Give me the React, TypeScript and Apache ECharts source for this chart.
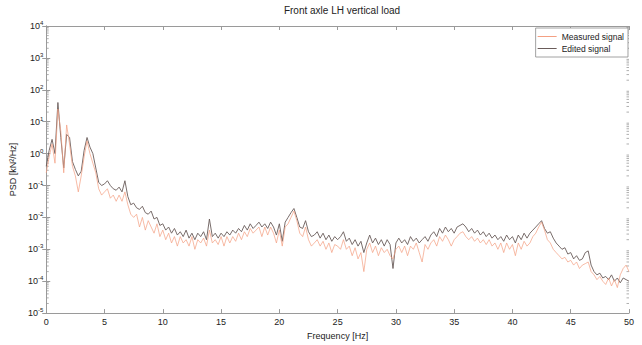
import React, { useEffect, useRef } from "react";
import * as echarts from "echarts";

// Frequency sampling of the PSD estimate (Hz)
const FREQ_START = 0;
const FREQ_STEP = 0.25;

// Measured signal PSD [kN^2/Hz], 0..50 Hz every 0.25 Hz
const measured: number[] = [
  0.25, 0.79, 2.0, 0.5, 25, 5.0, 0.25, 7.9, 2.0, 0.4, 0.2, 0.063, 0.2, 0.79, 2.5, 1.0, 0.5, 0.25, 0.079, 0.05,
  0.063, 0.079, 0.04, 0.05, 0.032, 0.05, 0.032, 0.063, 0.025, 0.0126, 0.01, 0.0126, 0.005, 0.01, 0.004, 0.0079, 0.005, 0.0032, 0.0063, 0.0025,
  0.004, 0.002, 0.0032, 0.00158, 0.0025, 0.00126, 0.0025, 0.00158, 0.002, 0.00126, 0.0025, 0.001, 0.002, 0.00158, 0.00224, 0.00126, 0.004, 0.00158, 0.002, 0.00141,
  0.0025, 0.00126, 0.0025, 0.00158, 0.0025, 0.00178, 0.0032, 0.002, 0.00355, 0.0025, 0.0045, 0.0032, 0.004, 0.005, 0.0025, 0.005, 0.0028, 0.005, 0.0032, 0.00158,
  0.004, 0.00126, 0.005, 0.0063, 0.01, 0.0158, 0.0079, 0.0032, 0.0025, 0.005, 0.002, 0.00126, 0.00158, 0.002, 0.00126, 0.00178, 0.001, 0.00158, 0.00079, 0.00141,
  0.00126, 0.001, 0.002, 0.001, 0.00126, 0.00063, 0.00112, 0.0005, 0.00079, 0.0002, 0.001, 0.00158, 0.00079, 0.00126, 0.00063, 0.00112, 0.00079, 0.001, 0.00063, 0.0005,
  0.001, 0.00126, 0.00079, 0.00126, 0.00063, 0.00126, 0.001, 0.00158, 0.00079, 0.0004, 0.00141, 0.001, 0.00158, 0.002, 0.00126, 0.0025, 0.00178, 0.0028, 0.002, 0.00126,
  0.002, 0.0025, 0.0032, 0.00355, 0.0025, 0.002, 0.0025, 0.00178, 0.00224, 0.00158, 0.002, 0.00141, 0.002, 0.00126, 0.00158, 0.001, 0.00158, 0.00079, 0.00158, 0.001,
  0.00141, 0.00063, 0.00158, 0.001, 0.00178, 0.00126, 0.00158, 0.0025, 0.0032, 0.005, 0.0071, 0.004, 0.002, 0.00158, 0.001, 0.00079, 0.00063, 0.0005, 0.00056, 0.0004,
  0.00045, 0.00032, 0.0004, 0.00025, 0.00032, 0.000355, 0.0004, 0.0002, 0.000158, 0.000112, 0.000141, 0.0001, 0.000079, 0.000126, 0.000071, 0.000112, 0.000063, 0.000158, 0.00025, 0.00032,
  0.0002,
];

// Edited signal PSD [kN^2/Hz], 0..50 Hz every 0.25 Hz
const edited: number[] = [
  0.4, 1.26, 2.8, 1.0, 40, 3.2, 0.355, 4.0, 3.2, 0.56, 0.32, 0.2, 0.28, 1.26, 3.2, 1.6, 1.0, 0.355, 0.126, 0.1,
  0.112, 0.141, 0.1, 0.079, 0.071, 0.089, 0.063, 0.141, 0.045, 0.025, 0.028, 0.02, 0.0178, 0.0224, 0.0141, 0.0126, 0.0158, 0.0089, 0.01, 0.0056,
  0.0063, 0.004, 0.005, 0.0032, 0.0045, 0.0028, 0.00355, 0.0025, 0.004, 0.00224, 0.0032, 0.002, 0.0032, 0.0025, 0.00355, 0.002, 0.0089, 0.0025, 0.0032, 0.00224,
  0.0032, 0.0025, 0.00355, 0.0028, 0.004, 0.0032, 0.0045, 0.00355, 0.0056, 0.004, 0.0063, 0.0045, 0.0056, 0.0071, 0.005, 0.0063, 0.0045, 0.0071, 0.005, 0.0028,
  0.0063, 0.00178, 0.0071, 0.01, 0.0141, 0.019, 0.01, 0.005, 0.0045, 0.0079, 0.00355, 0.0025, 0.0028, 0.00355, 0.00224, 0.0032, 0.002, 0.0028, 0.00178, 0.0025,
  0.002, 0.0025, 0.00355, 0.00178, 0.00224, 0.00141, 0.002, 0.00126, 0.00178, 0.00079, 0.00158, 0.0028, 0.00158, 0.00224, 0.00141, 0.002, 0.00126, 0.002, 0.00141, 0.00025,
  0.00158, 0.00224, 0.00158, 0.002, 0.00141, 0.0025, 0.00178, 0.00224, 0.00158, 0.002, 0.0025, 0.00178, 0.0028, 0.00355, 0.0025, 0.0045, 0.0032, 0.005, 0.00355, 0.0045,
  0.0032, 0.005, 0.0056, 0.0063, 0.005, 0.00355, 0.0045, 0.0032, 0.004, 0.0028, 0.00355, 0.0025, 0.0032, 0.00224, 0.0028, 0.002, 0.0025, 0.00178, 0.0028, 0.002,
  0.0025, 0.00158, 0.0028, 0.002, 0.0032, 0.00224, 0.0032, 0.004, 0.005, 0.0063, 0.0079, 0.0045, 0.0032, 0.00355, 0.00224, 0.00158, 0.00126, 0.001, 0.00112, 0.00071,
  0.00079, 0.0005, 0.00063, 0.00045, 0.0005, 0.00079, 0.00089, 0.00032, 0.0002, 0.000158, 0.000178, 0.000126, 0.000141, 0.000112, 0.000158, 0.0001, 0.000126, 0.000089, 0.000126, 0.000112,
  0.0001,
];

const seriesNames = ["Measured signal", "Edited signal"];
const titleText = "Front axle LH vertical load";
const xName = "Frequency [Hz]";
const yName = "PSD [kN²/Hz]";
const yDecadeExponents = [-5, -4, -3, -2, -1, 0, 1, 2, 3, 4];
const minorMantissas = [2, 3, 4, 5, 6, 7, 8, 9];

const FONT = "'Liberation Sans', Arial, Helvetica, sans-serif";
const AXIS_COLOR = "#9a9a9a";
const MEASURED_COLOR = "#f4a083";
const EDITED_COLOR = "#6a5c5a";

export default function App() {
  const ref = useRef<HTMLDivElement>(null);
  useEffect(() => {
    if (!ref.current) return;
    const chart = echarts.init(ref.current, undefined, { renderer: "svg" });
    const toPairs = (arr: number[]) => arr.map((v, i) => [FREQ_START + i * FREQ_STEP, v]);
    const minorTicks: number[][] = [];
    yDecadeExponents.slice(0, -1).forEach((e) => {
      minorMantissas.forEach((m) => minorTicks.push([0, m * Math.pow(10, e)]));
    });
    const yMin = Math.pow(10, yDecadeExponents[0]);
    const yMax = Math.pow(10, yDecadeExponents[yDecadeExponents.length - 1]);

    const xCommon = {
      type: "value",
      min: 0,
      max: 50,
      interval: 5,
      axisLine: { show: true, lineStyle: { color: AXIS_COLOR, width: 1 } },
      axisTick: { show: true, inside: true, length: 4, lineStyle: { color: AXIS_COLOR } },
      splitLine: { show: false },
    };
    const yCommon = {
      type: "log",
      logBase: 10,
      min: yMin,
      max: yMax,
      interval: 1,
      axisLine: { show: true, lineStyle: { color: AXIS_COLOR, width: 1 } },
      axisTick: { show: true, inside: true, length: 4, lineStyle: { color: AXIS_COLOR } },
      splitLine: { show: false },
    };

    chart.setOption({
      animation: false,
      backgroundColor: "#fff",
      textStyle: { fontFamily: FONT },
      title: {
        text: titleText,
        left: 337,
        textAlign: "center",
        top: 0,
        textStyle: { fontSize: 10, fontWeight: "normal", color: "#222", fontFamily: FONT },
      },
      legend: {
        data: seriesNames.map((n) => ({ name: n, icon: "rect" })),
        orient: "vertical",
        right: 14,
        top: 28,
        itemWidth: 19,
        itemHeight: 1,
        itemGap: 3,
        padding: [4, 4, 4, 2],
        backgroundColor: "#fff",
        borderColor: "#8a8a8a",
        borderWidth: 0.8,
        borderRadius: 0,
        textStyle: { fontSize: 8.5, color: "#222", fontFamily: FONT },
      },
      grid: { left: 45, top: 26, right: 13, bottom: 24, containLabel: false },
      xAxis: [
        {
          ...xCommon,
          position: "bottom",
          name: xName,
          nameLocation: "middle",
          nameGap: 16,
          nameTextStyle: { fontSize: 9, color: "#222", fontFamily: FONT },
          axisLabel: { fontSize: 9, color: "#222", margin: 4, fontFamily: FONT },
        },
        { ...xCommon, position: "top", axisLabel: { show: false } },
      ],
      yAxis: [
        {
          ...yCommon,
          position: "left",
          name: yName,
          nameLocation: "middle",
          nameGap: 22,
          nameTextStyle: { fontSize: 9, color: "#222", fontFamily: FONT },
          axisLabel: {
            margin: 3,
            color: "#222",
            formatter: (v: number) => `{b|10}{s|${Math.round(Math.log10(v))}}`,
            rich: {
              b: { fontSize: 9, color: "#222", fontFamily: FONT },
              s: { fontSize: 6, color: "#222", fontFamily: FONT, padding: [0, 0, 6, 0] },
            },
          },
        },
        { ...yCommon, position: "right", axisLabel: { show: false } },
      ],
      series: [
        {
          name: seriesNames[1],
          type: "line",
          data: toPairs(edited),
          showSymbol: false,
          symbol: "none",
          color: EDITED_COLOR,
          lineStyle: { width: 0.9, color: EDITED_COLOR },
          z: 2,
        },
        {
          name: seriesNames[0],
          type: "line",
          data: toPairs(measured),
          showSymbol: false,
          symbol: "none",
          color: MEASURED_COLOR,
          lineStyle: { width: 0.8, color: MEASURED_COLOR, opacity: 0.9 },
          z: 3,
        },
        {
          type: "custom",
          silent: true,
          data: minorTicks,
          z: 1,
          renderItem: (params: any, api: any) => {
            const y = api.coord([0, api.value(1)])[1];
            const cs = params.coordSys;
            const x0 = cs.x;
            const x1 = cs.x + cs.width;
            return {
              type: "group",
              children: [
                { type: "line", shape: { x1: x0, y1: y, x2: x0 + 2.5, y2: y }, style: { stroke: AXIS_COLOR, lineWidth: 0.8 } },
                { type: "line", shape: { x1: x1 - 2.5, y1: y, x2: x1, y2: y }, style: { stroke: AXIS_COLOR, lineWidth: 0.8 } },
              ],
            };
          },
        },
      ],
    });
    return () => chart.dispose();
  }, []);
  return (
    <div
      ref={ref}
      style={{ position: "absolute", left: 0, top: 0, width: 642, height: 345, background: "#fff" }}
    />
  );
}
